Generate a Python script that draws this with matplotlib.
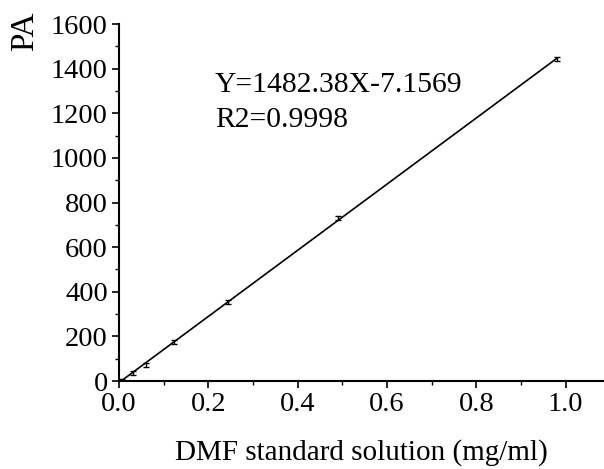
import matplotlib
matplotlib.use("Agg")
import matplotlib.pyplot as plt
import numpy as np
from matplotlib.ticker import MultipleLocator

plt.rcParams['font.family'] = ['Liberation Serif', 'DejaVu Serif']

conc = [0.0077, 0.0306, 0.0613, 0.1225, 0.245, 0.49, 0.98]
pa = [5, 36, 72, 175, 355, 729, 1442]
err = [6, 7, 9, 9, 9, 9, 8]
slope, intercept = 1482.38, -7.1569
eq_text = "Y=1482.38X-7.1569"
r2_text = "R2=0.9998"

fig = plt.figure(figsize=(6.04, 4.69), dpi=100)
ax = fig.add_axes([0.197, 0.1876, 0.803, 0.7612])

xl = np.array([0.0, max(conc)])
ax.plot(xl, slope * xl + intercept, color='black', lw=1.2)
ax.errorbar(conc, pa, yerr=err, fmt='none', ecolor='black', elinewidth=1.0, capsize=2.5, capthick=1.0)

ax.set_xlim(0, 1.086)
ax.set_ylim(0, 1600)
ax.xaxis.set_major_locator(MultipleLocator(0.2))
ax.xaxis.set_minor_locator(MultipleLocator(0.1))
ax.yaxis.set_major_locator(MultipleLocator(200))
ax.yaxis.set_minor_locator(MultipleLocator(100))
ax.xaxis.set_major_formatter(plt.FuncFormatter(lambda v, p: f"{v:.1f}"))

for s in ['top', 'right']:
    ax.spines[s].set_visible(False)
for s in ['left', 'bottom']:
    ax.spines[s].set_linewidth(1.5)

ax.tick_params(which='major', direction='out', length=5, width=1.2, labelsize=20.5, pad=3)
ax.tick_params(which='minor', direction='out', length=3, width=1.0)

ax.text(0.215, 1295, eq_text, fontsize=21.3, va='baseline', ha='left')
ax.text(0.215, 1138, r2_text, fontsize=21.3, va='baseline', ha='left')

ax.set_xlabel("DMF standard solution (mg/ml)", fontsize=21, labelpad=16)
ax.set_ylabel("PA", fontsize=24)
ax.yaxis.set_label_coords(-0.162, 0.98)

fig.savefig("out.png", dpi=100)
